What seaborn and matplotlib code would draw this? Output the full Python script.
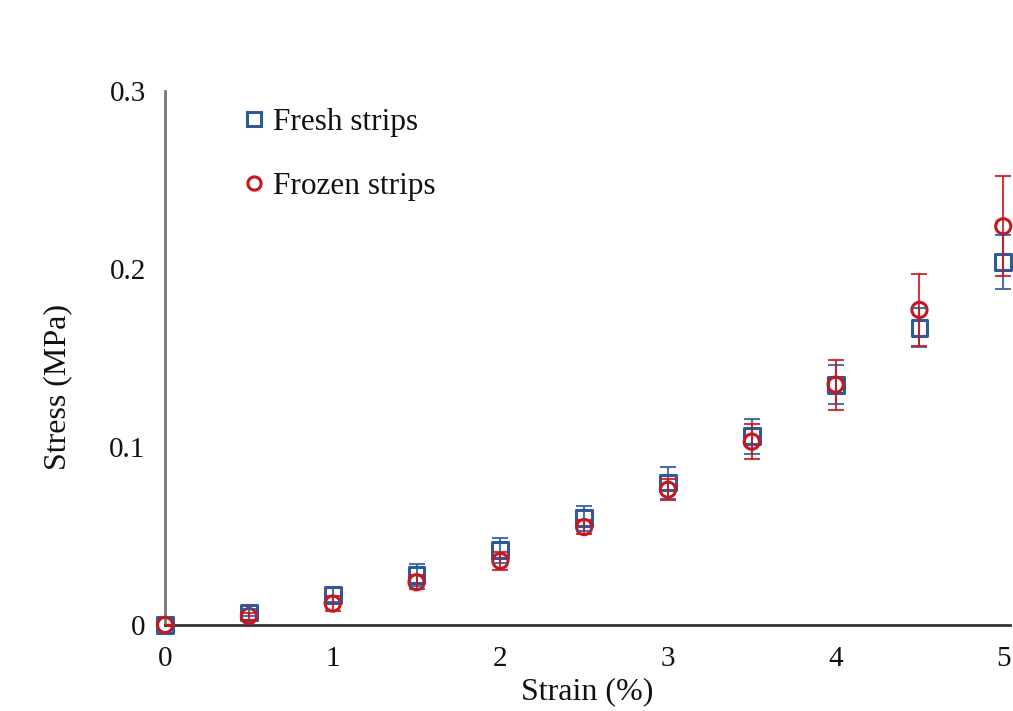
import numpy as np
import pandas as pd
import matplotlib
matplotlib.use("Agg")
import matplotlib.pyplot as plt
import seaborn as sns
from matplotlib.lines import Line2D

strain = [0, 0.5, 1, 1.5, 2, 2.5, 3, 3.5, 4, 4.5, 5]
fresh_stress = [0.0, 0.007, 0.017, 0.028, 0.042, 0.060, 0.080, 0.106, 0.135, 0.167, 0.204]
fresh_err = [0.0, 0.002, 0.004, 0.006, 0.007, 0.007, 0.009, 0.010, 0.011, 0.011, 0.015]
frozen_stress = [0.0, 0.005, 0.012, 0.024, 0.036, 0.055, 0.076, 0.103, 0.135, 0.177, 0.224]
frozen_err = [0.0, 0.002, 0.004, 0.004, 0.005, 0.004, 0.006, 0.010, 0.014, 0.020, 0.028]
series_names = ["Fresh strips", "Frozen strips"]

sns.set_style("white")
plt.rcParams['font.family'] = ['Liberation Serif', 'DejaVu Serif']
plt.rcParams['text.color'] = '#111111'
plt.rcParams['axes.labelcolor'] = '#111111'
plt.rcParams['xtick.labelcolor'] = '#111111'
plt.rcParams['ytick.labelcolor'] = '#111111'

df = pd.DataFrame({
    "Strain": strain * 2,
    "Stress": fresh_stress + frozen_stress,
    "Err": fresh_err + frozen_err,
    "Sample": [series_names[0]] * len(strain) + [series_names[1]] * len(strain),
})

blue = "#2E5A97"
red = "#C8161D"
palette = {series_names[0]: blue, series_names[1]: red}
markers = {series_names[0]: "s", series_names[1]: "o"}
sizes = {series_names[0]: 130, series_names[1]: 120}

fig = plt.figure(figsize=(10.13, 7.11), dpi=100)
ax = fig.add_axes([0.163, 0.121, 0.834, 0.751])

for name in series_names:
    sub = df[df["Sample"] == name]
    sns.scatterplot(data=sub, x="Strain", y="Stress", ax=ax, marker=markers[name],
                    s=sizes[name], facecolor="none", edgecolor=palette[name],
                    linewidth=2.2, zorder=3, legend=False, clip_on=False)

for name in series_names:
    sub = df[df["Sample"] == name]
    ax.errorbar(sub["Strain"], sub["Stress"], yerr=sub["Err"], fmt="none",
                ecolor=palette[name], elinewidth=1.5, capsize=5.5, capthick=1.5,
                alpha=0.85, zorder=4)

ax.set_xlim(0, 5.04)
ax.set_ylim(0, 0.3)
ax.set_xticks([0, 1, 2, 3, 4, 5])
ax.set_xticklabels(["0", "1", "2", "3", "4", "5"])
ax.set_yticks([0, 0.1, 0.2, 0.3])
ax.set_yticklabels(["0", "0.1", "0.2", "0.3"])
ax.tick_params(axis="both", direction="in", length=6, width=1.5, labelsize=21,
               color="#333333")
ax.tick_params(axis="x", pad=15)
ax.tick_params(axis="y", pad=14)
for side in ["top", "right"]:
    ax.spines[side].set_visible(False)
ax.spines["left"].set_color("#777777")
ax.spines["left"].set_linewidth(2)
ax.spines["bottom"].set_color("#333333")
ax.spines["bottom"].set_linewidth(2)

ax.set_xlabel("Strain (%)", fontsize=23, labelpad=4)
ax.set_ylabel("Stress (MPa)", fontsize=23)
ax.yaxis.set_label_coords(-0.11, 0.446)

handles = [Line2D([], [], linestyle="none", marker=markers[n], markersize=9.5,
                  markerfacecolor="white", markeredgecolor=palette[n],
                  markeredgewidth=2.2) for n in series_names]
ax.legend(handles, series_names, loc="upper left", bbox_to_anchor=(0.054, 1.021),
          frameon=False, fontsize=22.5, handletextpad=0.1, labelspacing=1.13,
          handlelength=1.0)

fig.savefig("out.png", dpi=100)
